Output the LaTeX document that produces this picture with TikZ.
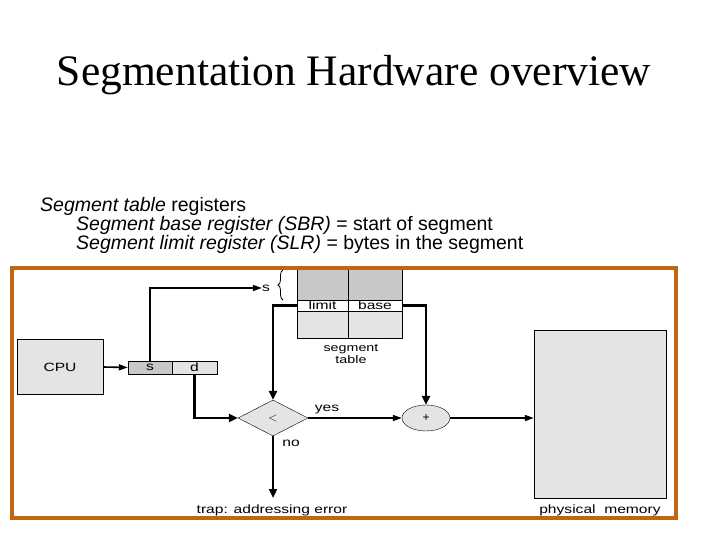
\documentclass[tikz,border=0pt]{standalone}
\usepackage{fontspec}
\setmainfont{Liberation Serif}
\setsansfont{Liberation Sans}
\usetikzlibrary{arrows.meta,shapes.geometric,decorations.pathreplacing}
\definecolor{frameor}{HTML}{C0660F}
\definecolor{lg}{HTML}{E4E4E4}
\definecolor{dg}{HTML}{C8C8C8}
\newcommand{\wdx}[1]{\scalebox{1.3}[1]{#1}}
\begin{document}
\begin{tikzpicture}[x=1pt,y=1pt,
  lbl/.style={font=\sffamily\fontsize{12}{12}\selectfont,inner sep=0pt},
  thick1/.style={line width=2.6pt,-{Triangle[length=9pt,width=8pt]}},
  thin1/.style={line width=1.6pt,-{Triangle[length=9pt,width=6pt]}},
  body/.style={font=\sffamily\fontsize{19.5}{21}\selectfont,anchor=west,inner sep=0pt}]
\useasboundingbox (0,0) rectangle (720,-540);
\node[font=\fontsize{43.5}{46}\selectfont] (title) at (354,-75) {Segmentation Hardware overview};
\node[body] (l1) at (40,-206) {\textit{Segment table} registers};
\node[body] (l2) at (76,-225) {\textit{Segment base register (SBR)} = start of segment};
\node[body] (l3) at (76,-244) {\textit{Segment limit register (SLR)} = bytes in the segment};
% diagram
\node[draw,fill=lg,minimum width=86pt,minimum height=55pt,inner sep=0pt,lbl] (cpu) at (60,-367) {\wdx{CPU}};
\node[draw,fill=dg,minimum width=44pt,minimum height=13pt,inner sep=0pt,lbl] (s) at (150,-367.5) {\wdx{s}};
\node[draw,fill=lg,minimum width=45pt,minimum height=13pt,inner sep=0pt,lbl] (d) at (194.5,-367.5) {\wdx{d}};
% segment table
\fill[dg] (297,-268) rectangle (402,-300);
\fill[lg] (297,-311) rectangle (402,-338);
\draw[line width=1pt] (297,-268) -- (297,-338) -- (402,-338) -- (402,-268);
\draw[line width=1pt] (297,-300) -- (402,-300) (297,-311) -- (402,-311) (348,-268) -- (348,-338);
\node[lbl] (lim) at (322.5,-305.5) {\wdx{limit}};
\node[lbl] (base) at (375,-305.5) {\wdx{base}};
\coordinate (limL) at (297,-305.5);
\coordinate (baseR) at (402,-305.5);
\node[lbl,align=center,font=\sffamily\fontsize{11}{10}\selectfont] (st) at (351,-354) {\wdx{segment}\\\wdx{table}};
\node[lbl] (sl) at (266,-288) {\wdx{s}};
\draw[line width=0.8pt,decorate,decoration={brace,amplitude=5pt}] (283,-300) -- (283,-270);
\node[draw,diamond,fill=lg,minimum width=70pt,minimum height=36pt,inner sep=0pt,lbl,aspect=1.9] (cmp) at (273,-418) {$<$};
\node[draw,ellipse,fill=lg,minimum width=48pt,minimum height=26pt,inner sep=0pt,lbl] (plus) at (426,-418) {+};
\node[draw,fill=lg,minimum width=132pt,minimum height=168pt,inner sep=0pt] (mem) at (600,-414) {};
\node[lbl] (yes) at (327,-410) {\wdx{yes}};
\node[lbl] (no) at (291,-443) {\wdx{no}};
\coordinate (trap) at (273,-498);
\node[lbl] (trapl) at (272,-510) {\wdx{trap: addressing error}};
\node[lbl] (pm) at (600,-510) {\wdx{physical\ \ memory}};
% connectors
\draw[thin1] (cpu.east) -- (s.west);
\draw[thin1] (s.north) |- (sl.west);
\draw[thick1] (limL) -| (cmp.north);
\draw[thick1] (baseR) -| (plus.north);
\draw[thick1] (d.south) |- (cmp.west);
\draw[thin1] (cmp.east) -- (plus.west);
\draw[thin1] (plus.east) -- (mem.west |- plus.east);
\draw[thick1] (cmp.south) -- (trap);
\draw[frameor,line width=4pt] (12,-268) rectangle (676,-518);
\end{tikzpicture}
\end{document}
